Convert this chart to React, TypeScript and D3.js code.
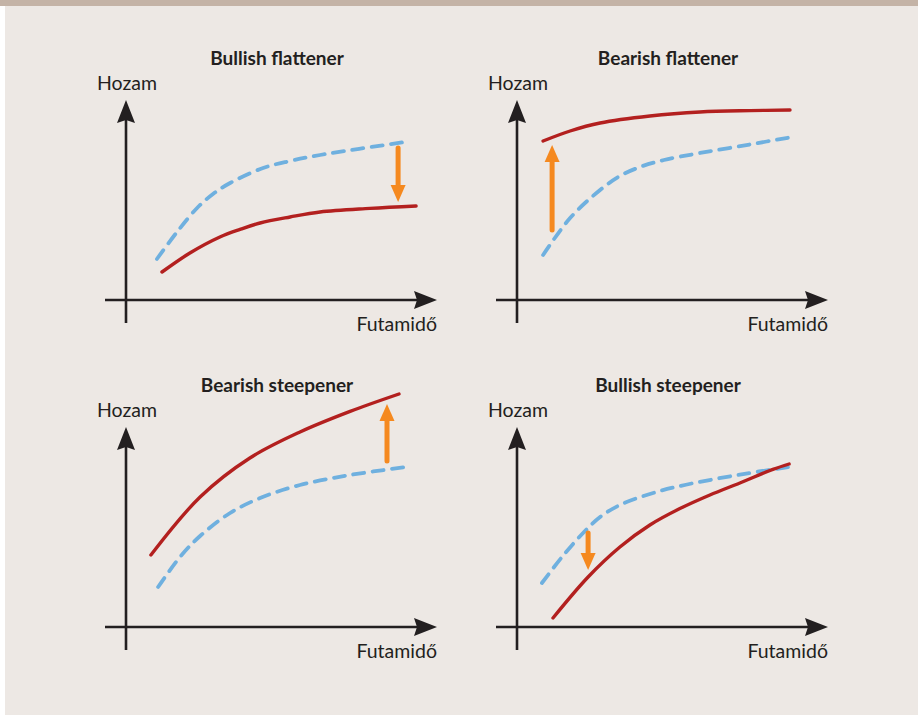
import React from "react";
import * as d3 from "d3";

// ---- data (abstract units: maturity 0..10, yield 0..12) ----
const panelTitles = ["Bullish flattener", "Bearish flattener", "Bearish steepener", "Bullish steepener"];
const yLabel = "Hozam";
const xLabel = "Futamidő";

// panel 1: Bullish flattener
const p1BeforeX = [1.03, 1.7, 2.37, 2.9, 3.47, 4.57, 5.47, 6.47, 9.3];
const p1BeforeY = [2.05, 3.4, 4.6, 5.3, 5.85, 6.6, 6.95, 7.25, 7.9];
const p1AfterX = [1.2, 2.13, 3.13, 3.8, 4.47, 5.47, 6.47, 8.13, 9.67];
const p1AfterY = [1.4, 2.35, 3.15, 3.53, 3.85, 4.15, 4.4, 4.58, 4.7];
const p1Shift = [9.07, 7.6, 4.9]; // x, from, to

// panel 2: Bearish flattener
const p2BeforeX = [0.87, 1.77, 2.77, 3.43, 4.1, 4.9, 6.1, 7.77, 9.17];
const p2BeforeY = [2.25, 4.1, 5.5, 6.2, 6.65, 7.0, 7.35, 7.78, 8.15];
const p2AfterX = [0.87, 1.77, 2.77, 4.43, 6.1, 7.77, 9.1];
const p2AfterY = [7.95, 8.45, 8.85, 9.2, 9.4, 9.47, 9.5];
const p2Shift = [1.17, 3.5, 7.75];

// panel 3: Bearish steepener
const p3BeforeX = [1.07, 1.8, 2.47, 3.47, 4.47, 5.8, 7.47, 9.33];
const p3BeforeY = [2.0, 3.5, 4.55, 5.7, 6.45, 7.1, 7.6, 8.0];
const p3AfterX = [0.83, 2.47, 4.13, 5.8, 7.47, 9.1];
const p3AfterY = [3.6, 6.5, 8.45, 9.75, 10.78, 11.65];
const p3Shift = [8.7, 8.3, 11.15];

// panel 4: Bullish steepener
const p4BeforeX = [0.83, 1.5, 2.17, 2.77, 3.43, 4.43, 5.43, 7.43, 9.07];
const p4BeforeY = [2.2, 3.5, 4.65, 5.5, 6.1, 6.65, 7.05, 7.62, 8.0];
const p4AfterX = [1.2, 2.37, 3.43, 4.43, 5.43, 6.43, 7.43, 8.53, 9.07];
const p4AfterY = [0.45, 2.5, 4.0, 5.1, 5.92, 6.6, 7.2, 7.88, 8.15];
const p4Shift = [2.37, 4.7, 2.85];

const panels = [
  { bx: p1BeforeX, by: p1BeforeY, ax: p1AfterX, ay: p1AfterY, s: p1Shift },
  { bx: p2BeforeX, by: p2BeforeY, ax: p2AfterX, ay: p2AfterY, s: p2Shift },
  { bx: p3BeforeX, by: p3BeforeY, ax: p3AfterX, ay: p3AfterY, s: p3Shift },
  { bx: p4BeforeX, by: p4BeforeY, ax: p4AfterX, ay: p4AfterY, s: p4Shift },
];

// ---- style / layout ----
const W = 918;
const H = 715;
const BG = "#ede8e4";
const BAR = "#c4b3a6";
const AXIS = "#231f20";
const BLUE = "#6fb0df";
const RED = "#b3201f";
const ORANGE = "#f5891f";
const FONT = "Lato, 'Open Sans', sans-serif";
const offsets = [
  [0, 0],
  [391, 0],
  [0, 327],
  [391, 327],
];

const xScale = d3.scaleLinear().domain([0, 10]).range([126, 426]);
const yScale = d3.scaleLinear().domain([0, 10]).range([300, 100]);

const line = d3
  .line<[number, number]>()
  .x((d) => xScale(d[0]))
  .y((d) => yScale(d[1]))
  .curve(d3.curveCatmullRom.alpha(0.5));

function Panel({ i }: { i: number }) {
  const p = panels[i];
  const [dx, dy] = offsets[i];
  const axX = 126;
  const axY = 300;
  const before = p.bx.map((x, k) => [x, p.by[k]] as [number, number]);
  const after = p.ax.map((x, k) => [x, p.ay[k]] as [number, number]);
  const ax = xScale(p.s[0]);
  const y0 = yScale(p.s[1]);
  const y1 = yScale(p.s[2]);
  const dir = y1 > y0 ? 1 : -1;
  const headLen = 17;
  const headHalf = 7.5;
  const shaftEnd = y1 - dir * (headLen - 1);
  return (
    <g transform={`translate(${dx},${dy})`}>
      <text x={277} y={65} textAnchor="middle" fontFamily={FONT} fontWeight={700} fontSize={19} fill={AXIS}>
        {panelTitles[i]}
      </text>
      <text x={97} y={90} fontFamily={FONT} fontSize={19.5} fill={AXIS}>
        {yLabel}
      </text>
      <text x={437} y={331} textAnchor="end" fontFamily={FONT} fontSize={19.5} fill={AXIS}>
        {xLabel}
      </text>
      {/* axes */}
      <line x1={axX} x2={axX} y1={323} y2={118} stroke={AXIS} strokeWidth={2.6} />
      <path d={`M${axX},100 L${axX + 9},123 L${axX},120 L${axX - 9},123 Z`} fill={AXIS} />
      <line x1={105} x2={418} y1={axY} y2={axY} stroke={AXIS} strokeWidth={2.6} />
      <path d={`M437,${axY} L414,${axY - 9} L417,${axY} L414,${axY + 9} Z`} fill={AXIS} />
      {/* curves */}
      <path d={line(before) || ""} fill="none" stroke={BLUE} strokeWidth={3.8} strokeDasharray="11 8.5" strokeLinecap="round" />
      <path d={line(after) || ""} fill="none" stroke={RED} strokeWidth={3.4} strokeLinecap="round" />
      {/* shift arrow */}
      <line x1={ax} x2={ax} y1={y0} y2={shaftEnd} stroke={ORANGE} strokeWidth={5} strokeLinecap="round" />
      <path
        d={`M${ax},${y1} L${ax + headHalf},${y1 - dir * headLen} L${ax - headHalf},${y1 - dir * headLen} Z`}
        fill={ORANGE}
      />
    </g>
  );
}

export default function App() {
  return (
    <svg width={W} height={H} style={{ position: "absolute", left: 0, top: 0 }}>
      <rect x={0} y={0} width={W} height={H} fill="#ffffff" />
      <rect x={5} y={0} width={W - 5} height={H} fill={BG} />
      <rect x={0} y={0} width={W} height={6} fill={BAR} />
      {panels.map((_, i) => (
        <Panel key={i} i={i} />
      ))}
    </svg>
  );
}
